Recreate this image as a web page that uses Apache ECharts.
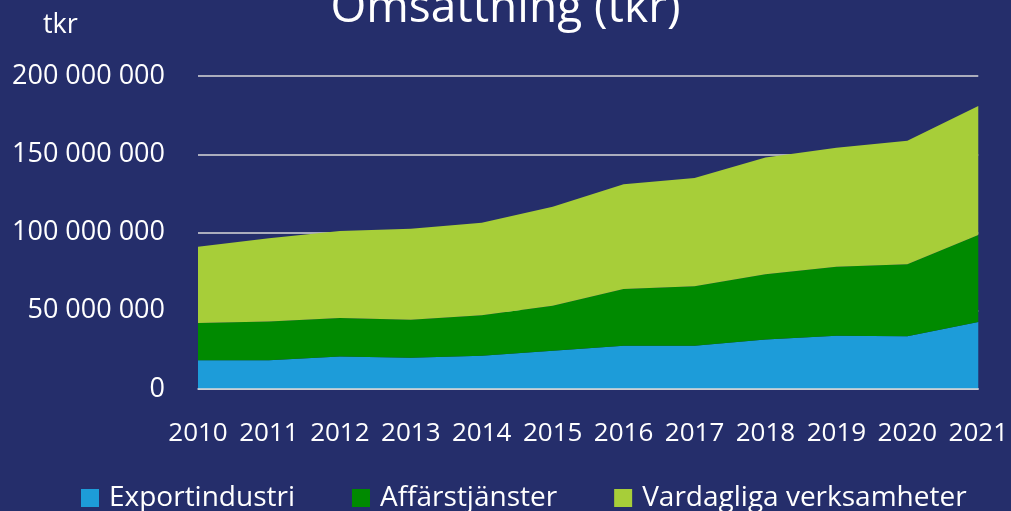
<!DOCTYPE html>
<html>
<head>
<meta charset="utf-8">
<script src="https://cdn.jsdelivr.net/npm/echarts@6/dist/echarts.min.js"></script>
<style>
  html, body { margin: 0; padding: 0; background: #252E6B; }
  #main { width: 1011px; height: 511px; }
</style>
</head>
<body>
<div id="main"></div>
<script>
// årtal på x-axeln
var years = ['2010', '2011', '2012', '2013', '2014', '2015', '2016', '2017', '2018', '2019', '2020', '2021'];

// omsättning per grupp (tkr)
var exportindustri = [18300000, 18300000, 20700000, 20000000, 21300000, 24500000, 27700000, 27700000, 31700000, 34100000, 33700000, 42800000];
var affarstjanster = [23900000, 24900000, 24700000, 24300000, 25800000, 28700000, 36200000, 37900000, 41600000, 44000000, 46000000, 55600000];
var vardagliga = [48700000, 53100000, 55500000, 58100000, 59200000, 63300000, 66900000, 69200000, 74700000, 76100000, 79000000, 82400000];

var seriesNames = ['Exportindustri', 'Affärstjänster', 'Vardagliga verksamheter'];
var colors = ['#1D9CD9', '#008A00', '#A7CE39'];

var font = 'Open Sans';

function fmt(v) {
    return String(v).replace(/\B(?=(\d{3})+(?!\d))/g, ' ');
}

function areaSeries(name, data, color) {
    return {
        name: name,
        type: 'line',
        stack: 'total',
        data: data,
        showSymbol: false,
        symbol: 'none',
        lineStyle: { width: 0 },
        areaStyle: { color: color, opacity: 1 },
        itemStyle: { color: color },
        emphasis: { disabled: true }
    };
}

var myChart = echarts.init(document.getElementById('main'));

var option = {
    backgroundColor: '#252E6B',
    animation: false,
    title: [{
        text: 'Omsättning (tkr)',
        left: 'center',
        top: -19,
        textStyle: { color: '#fff', fontFamily: font, fontWeight: 'normal', fontSize: 46 }
    }, {
        text: 'tkr',
        left: 38,
        top: 7,
        textStyle: { color: '#fff', fontFamily: font, fontWeight: 'normal', fontSize: 27 }
    }],
    legend: {
        top: 479,
        left: 76,
        icon: 'rect',
        itemWidth: 18,
        itemHeight: 18,
        itemGap: 57,
        data: seriesNames,
        textStyle: { color: '#fff', fontFamily: font, fontSize: 28, padding: [0, 0, 0, 5] }
    },
    grid: { left: 198, right: 32, top: 76, bottom: 122, containLabel: false },
    xAxis: {
        type: 'category',
        boundaryGap: false,
        data: years,
        z: 3,
        axisLine: { show: true, lineStyle: { color: '#D9D9D9', width: 1.5 } },
        axisTick: { show: false },
        axisLabel: { color: '#fff', fontFamily: font, fontSize: 26, margin: 32, interval: 0, hideOverlap: false }
    },
    yAxis: {
        type: 'value',
        min: 0,
        max: 200000000,
        interval: 50000000,
        axisLine: { show: false },
        axisTick: { show: false },
        splitLine: { lineStyle: { color: '#D9D9D9', width: 1.5 } },
        axisLabel: {
            color: '#fff',
            fontFamily: font,
            fontSize: 27,
            margin: 33,
            formatter: function (v) {
                return fmt(v);
            }
        }
    },
    series: [
        areaSeries(seriesNames[0], exportindustri, colors[0]),
        areaSeries(seriesNames[1], affarstjanster, colors[1]),
        areaSeries(seriesNames[2], vardagliga, colors[2])
    ]
};

myChart.setOption(option);
</script>
</body>
</html>
